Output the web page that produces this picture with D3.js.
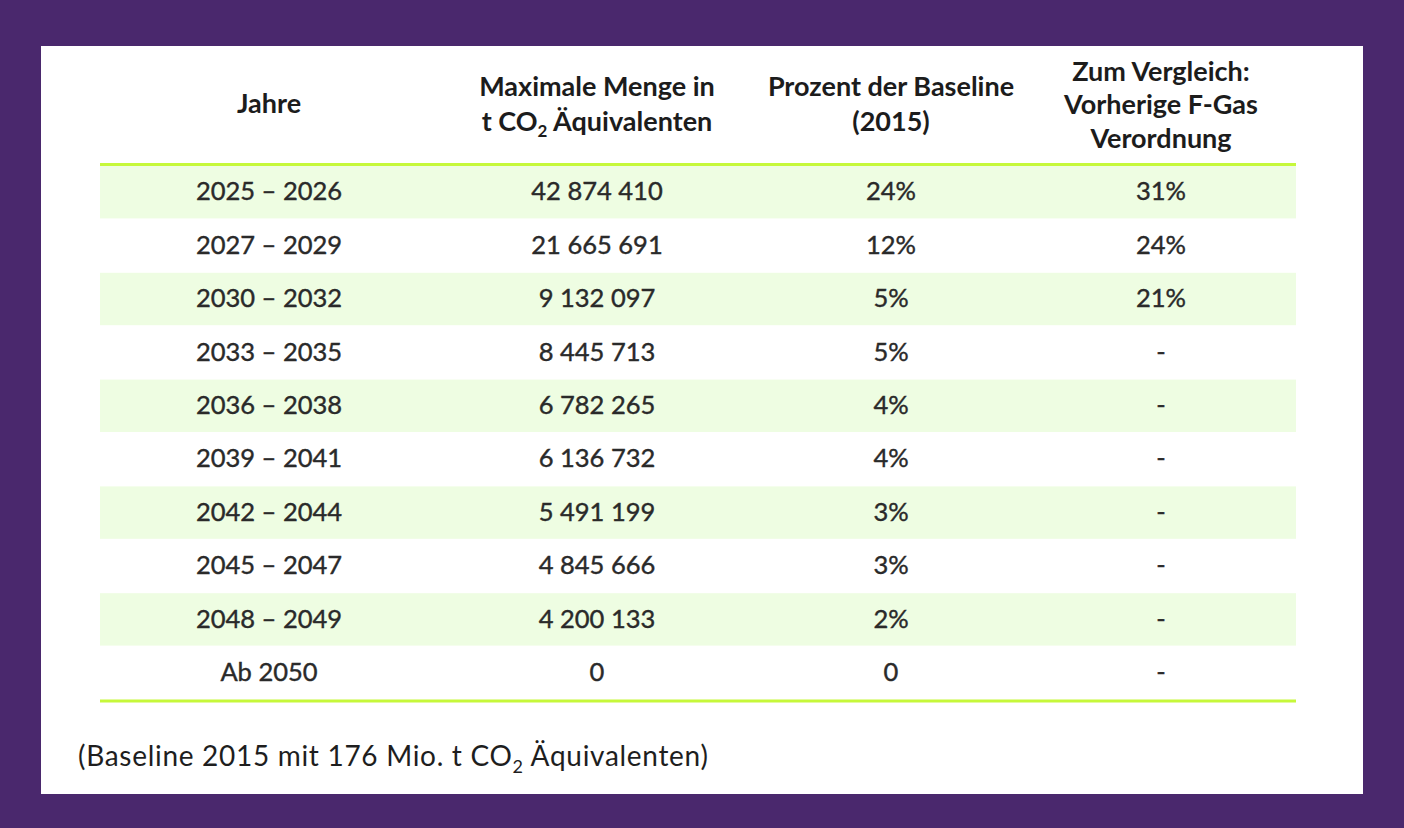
<!DOCTYPE html>
<html><head><meta charset="utf-8">
<script src="https://cdn.jsdelivr.net/npm/d3@7"></script>
<style>html,body{margin:0;padding:0;background:#4a286d;}</style>
</head><body>
<script>
const years = ["2025 – 2026","2027 – 2029","2030 – 2032","2033 – 2035","2036 – 2038","2039 – 2041","2042 – 2044","2045 – 2047","2048 – 2049","Ab 2050"];
const maxAmount = ["42 874 410","21 665 691","9 132 097","8 445 713","6 782 265","6 136 732","5 491 199","4 845 666","4 200 133","0"];
const baselinePct = ["24%","12%","5%","5%","4%","4%","3%","3%","2%","0"];
const previousReg = ["31%","24%","21%","-","-","-","-","-","-","-"];
const columns = ["years","amount","pct","prev"];

const W=1404,H=828;
const svg=d3.select("body").append("svg").attr("width",W).attr("height",H);
svg.append("rect").attr("width",W).attr("height",H).attr("fill","#4a286d");
svg.append("rect").attr("x",41).attr("y",46).attr("width",1322).attr("height",748).attr("fill","#ffffff");

const font="Lato, 'Open Sans', sans-serif";
const x=d3.scaleOrdinal().domain(columns).range([269,597,891,1161]);
const y=d3.scaleBand().domain(d3.range(years.length)).range([166,700]).padding(0);
const left=100,right=1296;

const rows=years.map((d,i)=>({i,years:d,amount:maxAmount[i],pct:baselinePct[i],prev:previousReg[i]}));

svg.selectAll("rect.band").data(rows.filter(r=>r.i%2===0)).join("rect")
  .attr("class","band").attr("x",left).attr("width",right-left)
  .attr("y",r=>y(r.i)).attr("height",y.bandwidth()-1).attr("fill","#eefde2");

// green rules
[164.5,701].forEach(yy=>svg.append("line").attr("x1",left).attr("x2",right).attr("y1",yy).attr("y2",yy)
  .attr("stroke","#c6f83a").attr("stroke-width",3));

// header
const hdr=svg.append("g").attr("font-family",font).attr("font-weight","bold").attr("font-size",27)
  .attr("fill","#1c1c1c").attr("text-anchor","middle");
hdr.append("text").attr("x",x("years")).attr("y",113).text("Jahre");
hdr.append("text").attr("x",x("amount")).attr("y",96).text("Maximale Menge in");
const t2=hdr.append("text").attr("x",x("amount")).attr("y",131);
t2.append("tspan").text("t CO");
t2.append("tspan").attr("font-size",17).attr("dy",6).text("2");
t2.append("tspan").attr("dy",-6).text(" Äquivalenten");
hdr.append("text").attr("x",x("pct")).attr("y",96).text("Prozent der Baseline");
hdr.append("text").attr("x",x("pct")).attr("y",131).text("(2015)");
hdr.append("text").attr("x",x("prev")).attr("y",81).text("Zum Vergleich:");
hdr.append("text").attr("x",x("prev")).attr("y",114).text("Vorherige F-Gas");
hdr.append("text").attr("x",x("prev")).attr("y",148).text("Verordnung");

// body cells
const body=svg.append("g").attr("font-family",font).attr("font-size",25.5).attr("fill","#2a2a2a")
  .attr("stroke","#2a2a2a").attr("stroke-width",0.4).attr("text-anchor","middle");
columns.forEach(c=>{
  body.selectAll("text."+c).data(rows).join("text").attr("class",c)
    .attr("x",x(c)).attr("y",r=>y(r.i)+y.bandwidth()/2).attr("dy","0.3em")
    .text(r=>r[c]);
});

// footnote
const fn=svg.append("text").attr("x",78).attr("y",766).attr("font-family",font)
  .attr("font-size",28).attr("letter-spacing",0.7).attr("fill","#1e1e1e");
fn.append("tspan").text("(Baseline 2015 mit 176 Mio. t CO");
fn.append("tspan").attr("font-size",18).attr("dy",7).text("2");
fn.append("tspan").attr("dy",-7).text(" Äquivalenten)");
</script>
</body></html>
